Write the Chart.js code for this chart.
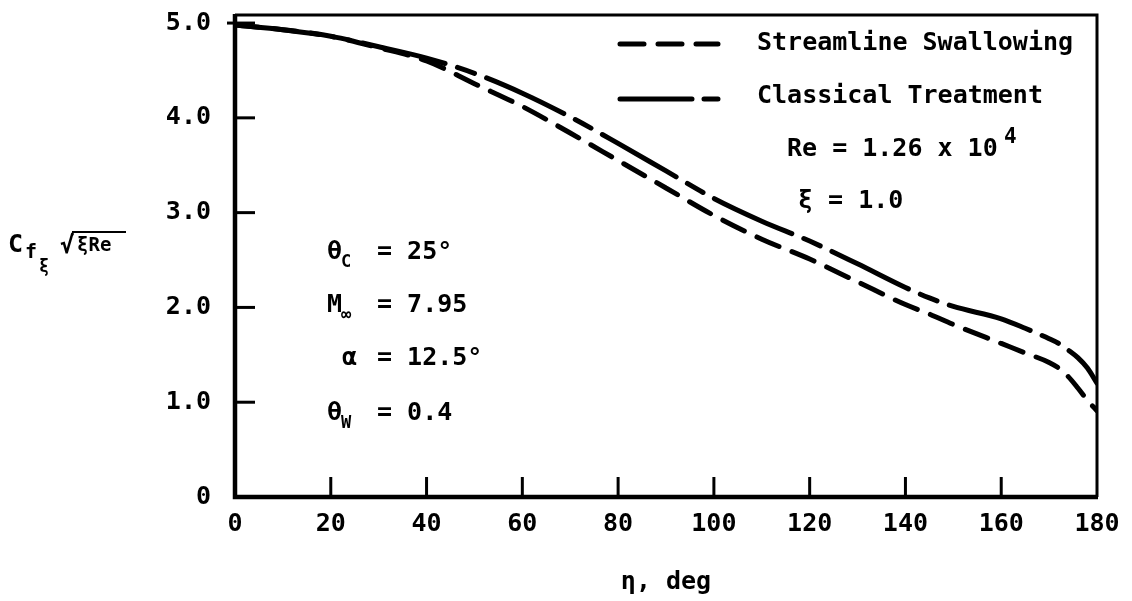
<!DOCTYPE html>
<html>
<head>
<meta charset="utf-8">
<script src="https://cdn.jsdelivr.net/npm/chart.js@4.4.1/dist/chart.umd.min.js"></script>
<style>
  html, body { margin: 0; padding: 0; background: #fff; }
  canvas { display: block; }
</style>
</head>
<body>
<canvas id="cf" width="1132" height="601"></canvas>
<script>
// Circumferential angle eta, deg
const etaDeg = [0, 10, 20, 30, 40, 50, 60, 70, 80, 90, 100, 110, 120, 130, 140, 145, 150, 160, 165, 170, 172, 174, 176, 178, 180];

// Skin friction Cf_xi * sqrt(xi Re)
const streamlineSwallowing = [4.98, 4.93, 4.86, 4.74, 4.60, 4.36, 4.12, 3.84, 3.55, 3.26, 2.97, 2.72, 2.51, 2.27, 2.03, 1.93, 1.82, 1.62, 1.52, 1.42, 1.36, 1.27, 1.15, 1.02, 0.91];
const classicalTreatment   = [4.98, 4.93, 4.86, 4.75, 4.63, 4.47, 4.26, 4.01, 3.73, 3.44, 3.15, 2.91, 2.70, 2.46, 2.21, 2.10, 2.01, 1.88, 1.78, 1.67, 1.62, 1.55, 1.47, 1.36, 1.20];

const seriesNames = ['Streamline Swallowing', 'Classical Treatment'];

const xTicks = [0, 20, 40, 60, 80, 100, 120, 140, 160, 180];
const yTicks = [0, 1, 2, 3, 4, 5];
const yTickLabels = ['0', '1.0', '2.0', '3.0', '4.0', '5.0'];

const MONO = "'DejaVu Sans Mono', 'Liberation Mono', monospace";
const dashSwallow = [24, 14];
const dashClassical = [85, 13, 18, 13];

const toPoints = (xs, ys) => xs.map((x, i) => ({ x, y: ys[i] }));

function bold(size) { return 'bold ' + size + 'px ' + MONO; }

// Frame, inward ticks, legend and annotations
const decorations = {
  id: 'decorations',
  afterDraw(chart) {
    const { ctx, chartArea: a, scales } = chart;
    const xs = scales.x, ys = scales.y;
    ctx.save();
    ctx.strokeStyle = '#000';
    ctx.fillStyle = '#000';
    ctx.lineCap = 'butt';

    // frame
    ctx.lineWidth = 3;
    ctx.beginPath();
    ctx.moveTo(a.left, a.top); ctx.lineTo(a.right, a.top); ctx.lineTo(a.right, a.bottom);
    ctx.stroke();
    ctx.lineWidth = 4.5;
    ctx.beginPath();
    ctx.moveTo(a.left, a.top - 1); ctx.lineTo(a.left, a.bottom); ctx.lineTo(a.right + 1, a.bottom);
    ctx.stroke();

    // inward tick marks
    ctx.lineWidth = 3;
    yTicks.forEach(v => {
      if (v === 0) return;
      const py = ys.getPixelForValue(v);
      ctx.beginPath();
      ctx.moveTo(a.left - (v === 5 ? 8 : 0), py);
      ctx.lineTo(a.left + 20, py);
      ctx.stroke();
    });
    xTicks.forEach(v => {
      if (v === 0 || v === 180) return;
      const px = xs.getPixelForValue(v);
      ctx.beginPath();
      ctx.moveTo(px, a.bottom);
      ctx.lineTo(px, a.bottom - 20);
      ctx.stroke();
    });

    // legend
    ctx.lineWidth = 5;
    ctx.lineCap = 'round';
    const legendRows = [
      { y: 44, dash: dashSwallow, ty: 43 },
      { y: 99, dash: [72, 12, 16, 40], ty: 96 }
    ];
    legendRows.forEach((r, i) => {
      ctx.setLineDash(r.dash);
      ctx.beginPath();
      ctx.moveTo(620, r.y);
      ctx.lineTo(718, r.y);
      ctx.stroke();
      ctx.setLineDash([]);
      ctx.font = bold(25);
      ctx.textBaseline = 'middle';
      ctx.textAlign = 'left';
      ctx.fillText(seriesNames[i], 757, r.ty);
    });

    ctx.textBaseline = 'middle';
    ctx.textAlign = 'left';
    // flow conditions
    ctx.font = bold(25);
    ctx.fillText('Re = 1.26 x 10', 787, 149);
    ctx.font = bold(21);
    ctx.fillText('4', 1004, 138);
    ctx.font = bold(25);
    ctx.fillText('\u03BE = 1.0', 798, 201);

    // body parameters
    const params = [
      { sym: '\u03B8', sub: 'C', val: '= 25\u00B0', x: 327, y: 252 },
      { sym: 'M', sub: '\u221E', val: '= 7.95', x: 327, y: 305 },
      { sym: '\u03B1', sub: '', val: '= 12.5\u00B0', x: 342, y: 358 },
      { sym: '\u03B8', sub: 'W', val: '= 0.4', x: 327, y: 413 }
    ];
    params.forEach(p => {
      ctx.font = bold(25);
      ctx.fillText(p.sym, p.x, p.y);
      if (p.sub) {
        ctx.font = bold(17);
        ctx.fillText(p.sub, p.x + 14, p.y + 11);
      }
      ctx.font = bold(25);
      ctx.fillText(p.val, 377, p.y);
    });

    // x-axis title
    ctx.font = bold(25);
    ctx.textAlign = 'center';
    ctx.fillText('\u03B7, deg', (a.left + a.right) / 2, 582);

    // y-axis title: C_f_xi sqrt(xi Re)
    ctx.textAlign = 'left';
    ctx.textBaseline = 'alphabetic';
    ctx.font = bold(25);
    ctx.fillText('C', 8, 252);
    ctx.font = bold(20);
    ctx.fillText('f', 25, 258);
    ctx.font = bold(17);
    ctx.fillText('\u03BE', 39, 272);
    ctx.font = bold(24);
    ctx.fillText('\u221A', 60, 253);
    ctx.font = bold(19);
    ctx.fillText('\u03BERe', 77, 251);
    ctx.lineWidth = 2;
    ctx.lineCap = 'butt';
    ctx.beginPath();
    ctx.moveTo(72, 232);
    ctx.lineTo(126, 232);
    ctx.stroke();

    ctx.restore();
  }
};

new Chart(document.getElementById('cf'), {
  type: 'line',
  data: {
    datasets: [
      {
        label: seriesNames[0],
        data: toPoints(etaDeg, streamlineSwallowing),
        borderColor: '#000',
        borderWidth: 5,
        borderDash: dashSwallow,
        borderCapStyle: 'round',
        pointRadius: 0,
        fill: false,
        cubicInterpolationMode: 'monotone'
      },
      {
        label: seriesNames[1],
        data: toPoints(etaDeg, classicalTreatment),
        borderColor: '#000',
        borderWidth: 5,
        borderDash: dashClassical,
        borderCapStyle: 'round',
        pointRadius: 0,
        fill: false,
        cubicInterpolationMode: 'monotone'
      }
    ]
  },
  options: {
    responsive: false,
    animation: false,
    devicePixelRatio: 1,
    layout: { padding: { top: 15, right: 35, left: 0, bottom: 0 } },
    plugins: { legend: { display: false }, tooltip: { enabled: false } },
    scales: {
      x: {
        type: 'linear',
        min: 0,
        max: 180,
        afterBuildTicks: s => { s.ticks = xTicks.map(v => ({ value: v })); },
        afterFit: s => { s.height = 104; s.paddingLeft = 0; s.paddingRight = 0; },
        grid: { display: false, drawTicks: false },
        border: { display: false },
        ticks: {
          color: '#000',
          font: { family: MONO, size: 25, weight: 'bold' },
          padding: 12,
          maxRotation: 0,
          autoSkip: false
        }
      },
      y: {
        type: 'linear',
        min: 0,
        max: 5.085,
        afterBuildTicks: s => { s.ticks = yTicks.map(v => ({ value: v })); },
        afterFit: s => { s.width = 235; s.paddingTop = 0; s.paddingBottom = 0; },
        grid: { display: false, drawTicks: false },
        border: { display: false },
        ticks: {
          color: '#000',
          font: { family: MONO, size: 25, weight: 'bold' },
          padding: 24,
          autoSkip: false,
          callback: (v) => yTickLabels[yTicks.indexOf(v)]
        }
      }
    }
  },
  plugins: [decorations]
});
</script>
</body>
</html>
